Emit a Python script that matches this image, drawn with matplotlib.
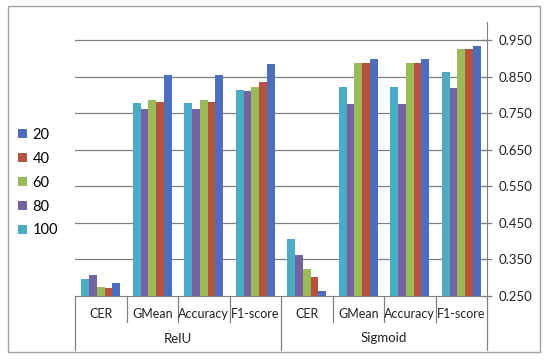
import numpy as np
import matplotlib
matplotlib.use("Agg")
import matplotlib.pyplot as plt
from matplotlib.patches import Patch, Rectangle

categories = ["CER", "GMean", "Accuracy", "F1-score", "CER", "GMean", "Accuracy", "F1-score"]
groups = ["RelU", "Sigmoid"]

# values per series (order of categories above)
s20 = [0.286, 0.854, 0.854, 0.884, 0.263, 0.898, 0.898, 0.933]
s40 = [0.272, 0.781, 0.781, 0.836, 0.302, 0.887, 0.887, 0.927]
s60 = [0.275, 0.786, 0.786, 0.821, 0.325, 0.887, 0.887, 0.927]
s80 = [0.308, 0.761, 0.761, 0.810, 0.361, 0.775, 0.775, 0.819]
s100 = [0.297, 0.777, 0.777, 0.813, 0.407, 0.821, 0.821, 0.862]

series_names = ["20", "40", "60", "80", "100"]
series_vals = [s20, s40, s60, s80, s100]
colors = ["#4D6DBE", "#B5533F", "#9BBB59", "#7462A3", "#4BACC6"]

yticks = [0.25, 0.35, 0.45, 0.55, 0.65, 0.75, 0.85, 0.95]

plt.rcParams["font.family"] = ["Lato", "DejaVu Sans"]

fig = plt.figure(figsize=(5.5, 3.62), dpi=100)
ax = fig.add_axes([75 / 550, 1 - 296 / 362, 412 / 550, 274 / 362])

x = np.arange(len(categories))
w = 0.151
# bars drawn left to right: 100, 80, 60, 40, 20
for k, i in enumerate([4, 3, 2, 1, 0]):
    ax.bar(x - 2 * w + k * w, np.array(series_vals[i]) - 0.25, bottom=0.25,
           width=w, color=colors[i], zorder=3)

ax.set_xlim(-0.5, 7.5)
ax.set_ylim(0.25, 1.0)
ax.yaxis.tick_right()
ax.set_yticks(yticks)
ax.set_yticklabels(["%.3f" % v for v in yticks], fontsize=9.5, color="#222222")
ax.tick_params(axis="y", direction="inout", length=7, width=0.9, color="#808080", pad=5)
ax.set_xticks([])
for v in yticks[1:]:
    ax.axhline(v, color="#808080", lw=0.9, zorder=1)

for s in ["top", "left"]:
    ax.spines[s].set_visible(False)
ax.spines["right"].set_color("#808080")
ax.spines["bottom"].set_color("#808080")
ax.spines["right"].set_bounds(0.25, 1.0)

# category dividers and labels below the axis
tr = ax.get_xaxis_transform()
for d in np.arange(-0.5, 8, 1.0):
    low = -0.197 if d in (-0.5, 3.5, 7.5) else -0.095
    ax.plot([d, d], [0, low], transform=tr, color="#808080", lw=0.9, clip_on=False)
for xi, c in zip(x, categories):
    ax.text(xi, -0.066, c, transform=tr, ha="center", va="center", fontsize=9, color="#222222")
ax.text(1.5, -0.157, groups[0], transform=tr, ha="center", va="center", fontsize=9.5, color="#222222")
ax.text(5.5, -0.152, groups[1], transform=tr, ha="center", va="center", fontsize=9.5, color="#222222")

handles = [Patch(facecolor=c) for c in colors]
fig.legend(handles, series_names, loc="upper left", bbox_to_anchor=(12 / 550, 1 - 122 / 362),
           frameon=False, fontsize=10.5, handlelength=0.6, handleheight=0.6,
           handletextpad=0.4, labelspacing=0.68, borderaxespad=0)

fig.patches.append(Rectangle((8 / 550, 10 / 362), 532 / 550, 346 / 362, transform=fig.transFigure,
                             fill=False, edgecolor="#a0a0a0", lw=1))

fig.savefig("out.png", dpi=100)
